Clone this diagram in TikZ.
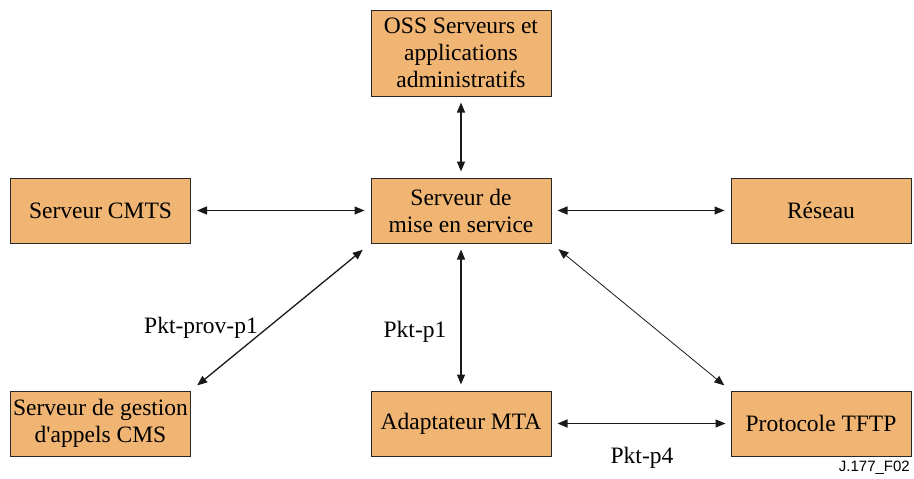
\documentclass[tikz,border=0pt]{standalone}
\usepackage{fontspec}
\setmainfont{Liberation Serif}
\newfontfamily\labsans{Liberation Sans}
\usetikzlibrary{arrows.meta}
\definecolor{boxfill}{RGB}{240,180,115}
\definecolor{boxline}{RGB}{40,40,40}
\tikzset{
  block/.style={draw=boxline, line width=1pt, fill=boxfill, minimum width=180pt, minimum height=65pt, inner sep=0pt, align=center, font=\fontsize{23.5}{27}\selectfont},
  link/.style={{Triangle[length=10pt,width=8pt]}-{Triangle[length=10pt,width=8pt]}, line width=1.3pt, draw=black!90},
  thinlink/.style={link, line width=0.8pt},
  lab/.style={font=\fontsize{23.5}{27}\selectfont, inner sep=0pt}
}
\begin{document}
\begin{tikzpicture}[x=1pt,y=-1pt]
\useasboundingbox (0,0) rectangle (914,479);
\node[block, minimum height=86pt] (oss) at (461,53) {OSS Serveurs et\\applications\\administratifs};
\node[block] (serv) at (461,210.5) {Serveur de\\mise en service};
\node[block] (cmts) at (100.5,210.5) {Serveur CMTS};
\node[block] (res) at (821,210.5) {Réseau};
\node[block] (cms) at (100.5,423.5) {Serveur de gestion\\d\textquotesingle appels CMS};
\node[block] (mta) at (461,423.5) {Adaptateur MTA};
\node[block] (tftp) at (821,423.5) {Protocole TFTP};

\draw[link, shorten <=6pt, shorten >=6pt] (oss) -- (serv);
\draw[link, shorten <=6pt, shorten >=6pt] (cmts) -- (serv);
\draw[link, shorten <=6pt, shorten >=6pt] (serv) -- (res);
\draw[link, shorten <=6pt, shorten >=6pt] (serv) -- (mta);
\draw[link, shorten <=6pt, shorten >=5pt] (mta) -- (tftp);
\draw[link, shorten <=10pt, shorten >=8pt] (serv.south west) -- (cms.north east);
\draw[thinlink, shorten <=9pt, shorten >=8pt] (serv.south east) -- (tftp.north west);

\node[lab] (l1) at (201,328) {Pkt-prov-p1};
\node[lab] (l2) at (415,332) {Pkt-p1};
\node[lab] (l3) at (642,458) {Pkt-p4};
\node[font=\labsans\fontsize{15}{18}\selectfont, anchor=east, inner sep=0pt] (fig) at (910,468) {J.177\_F02};
\end{tikzpicture}
\end{document}
